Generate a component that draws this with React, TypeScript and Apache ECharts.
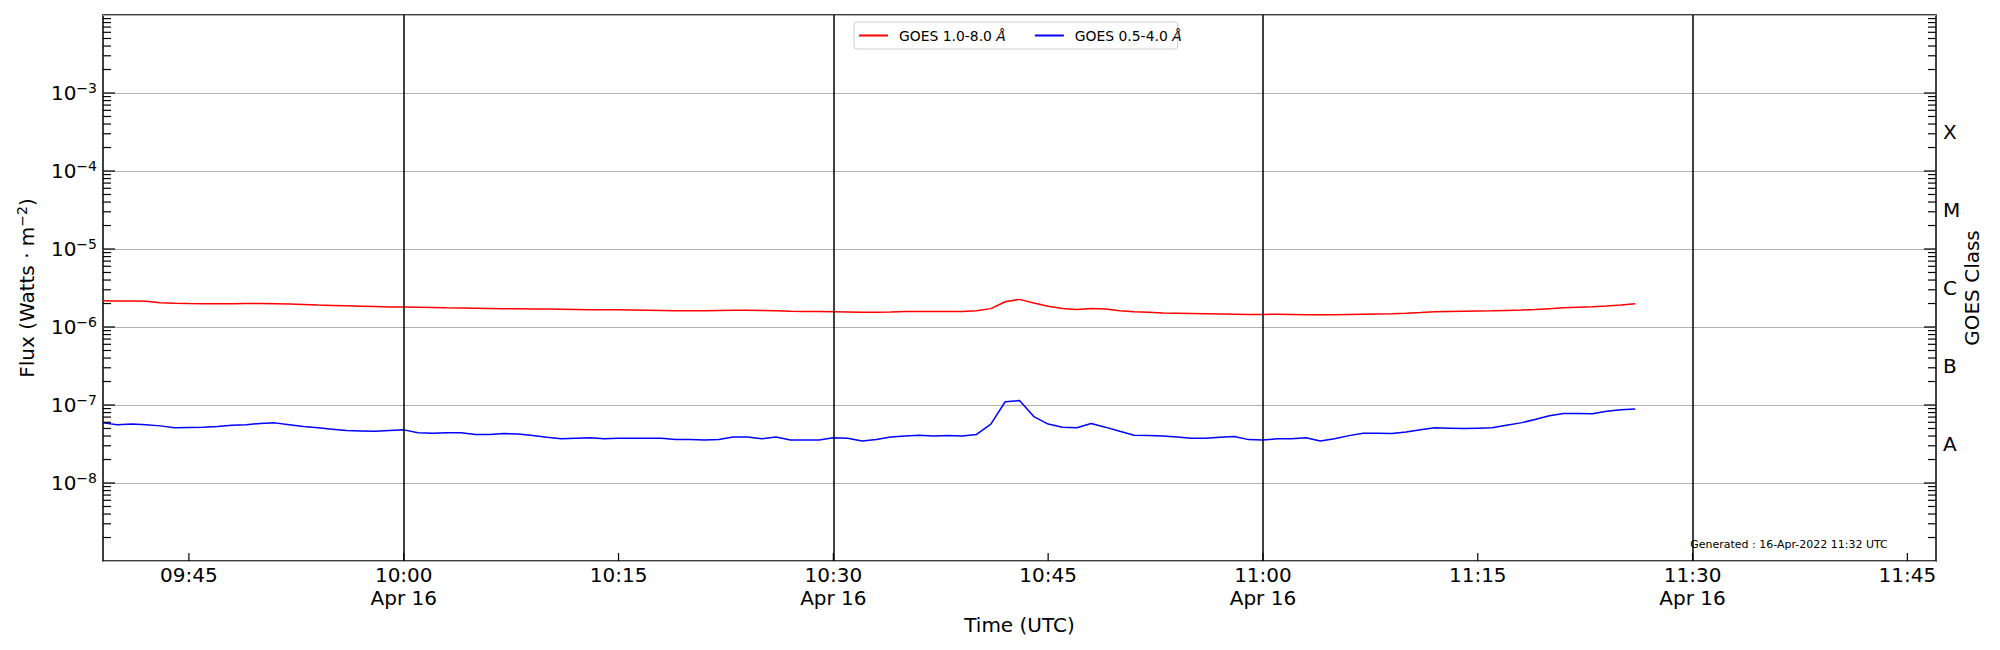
import React, { useEffect, useRef } from "react";
import * as echarts from "echarts";

// ---- data (1-minute GOES XRS fluxes, W/m^2) ----
const times = [
  "09:39","09:40","09:41","09:42","09:43","09:44","09:45","09:46","09:47","09:48",
  "09:49","09:50","09:51","09:52","09:53","09:54","09:55","09:56","09:57","09:58",
  "09:59","10:00","10:01","10:02","10:03","10:04","10:05","10:06","10:07","10:08",
  "10:09","10:10","10:11","10:12","10:13","10:14","10:15","10:16","10:17","10:18",
  "10:19","10:20","10:21","10:22","10:23","10:24","10:25","10:26","10:27","10:28",
  "10:29","10:30","10:31","10:32","10:33","10:34","10:35","10:36","10:37","10:38",
  "10:39","10:40","10:41","10:42","10:43","10:44","10:45","10:46","10:47","10:48",
  "10:49","10:50","10:51","10:52","10:53","10:54","10:55","10:56","10:57","10:58",
  "10:59","11:00","11:01","11:02","11:03","11:04","11:05","11:06","11:07","11:08",
  "11:09","11:10","11:11","11:12","11:13","11:14","11:15","11:16","11:17","11:18",
  "11:19","11:20","11:21","11:22","11:23","11:24","11:25","11:26",
];

const goesLong = [
  2.17e-6, 2.16e-6, 2.16e-6, 2.14e-6, 2.05e-6, 2.02e-6, 2.0e-6, 1.99e-6, 1.99e-6, 1.99e-6,
  2.0e-6, 2.0e-6, 1.99e-6, 1.97e-6, 1.94e-6, 1.91e-6, 1.89e-6, 1.87e-6, 1.85e-6, 1.83e-6,
  1.81e-6, 1.8e-6, 1.79e-6, 1.78e-6, 1.76e-6, 1.75e-6, 1.74e-6, 1.73e-6, 1.72e-6, 1.71e-6,
  1.7e-6, 1.7e-6, 1.69e-6, 1.68e-6, 1.67e-6, 1.67e-6, 1.66e-6, 1.65e-6, 1.64e-6, 1.63e-6,
  1.62e-6, 1.62e-6, 1.62e-6, 1.63e-6, 1.64e-6, 1.64e-6, 1.63e-6, 1.61e-6, 1.59e-6, 1.58e-6,
  1.58e-6, 1.57e-6, 1.56e-6, 1.55e-6, 1.55e-6, 1.56e-6, 1.58e-6, 1.58e-6, 1.58e-6, 1.58e-6,
  1.58e-6, 1.62e-6, 1.72e-6, 2.11e-6, 2.26e-6, 2.03e-6, 1.84e-6, 1.73e-6, 1.68e-6, 1.73e-6,
  1.7e-6, 1.62e-6, 1.57e-6, 1.54e-6, 1.51e-6, 1.5e-6, 1.49e-6, 1.48e-6, 1.47e-6, 1.46e-6,
  1.45e-6, 1.45e-6, 1.46e-6, 1.45e-6, 1.44e-6, 1.44e-6, 1.44e-6, 1.45e-6, 1.46e-6, 1.47e-6,
  1.48e-6, 1.5e-6, 1.53e-6, 1.57e-6, 1.58e-6, 1.59e-6, 1.6e-6, 1.61e-6, 1.63e-6, 1.65e-6,
  1.68e-6, 1.72e-6, 1.76e-6, 1.79e-6, 1.82e-6, 1.86e-6, 1.92e-6, 1.99e-6,
];

const goesShort = [
  5.9e-8, 5.6e-8, 5.7e-8, 5.6e-8, 5.4e-8, 5.1e-8, 5.15e-8, 5.2e-8, 5.3e-8, 5.5e-8,
  5.6e-8, 5.8e-8, 5.9e-8, 5.6e-8, 5.3e-8, 5.1e-8, 4.9e-8, 4.7e-8, 4.65e-8, 4.6e-8,
  4.7e-8, 4.8e-8, 4.4e-8, 4.35e-8, 4.4e-8, 4.4e-8, 4.2e-8, 4.2e-8, 4.3e-8, 4.25e-8,
  4.05e-8, 3.85e-8, 3.7e-8, 3.75e-8, 3.8e-8, 3.7e-8, 3.75e-8, 3.75e-8, 3.75e-8, 3.75e-8,
  3.6e-8, 3.6e-8, 3.55e-8, 3.6e-8, 3.9e-8, 3.9e-8, 3.7e-8, 3.9e-8, 3.55e-8, 3.55e-8,
  3.55e-8, 3.8e-8, 3.75e-8, 3.45e-8, 3.6e-8, 3.9e-8, 4.0e-8, 4.1e-8, 4.0e-8, 4.05e-8,
  4.0e-8, 4.2e-8, 5.7e-8, 1.1e-7, 1.14e-7, 7.1e-8, 5.7e-8, 5.2e-8, 5.1e-8, 5.8e-8,
  5.2e-8, 4.6e-8, 4.1e-8, 4.05e-8, 4.0e-8, 3.9e-8, 3.75e-8, 3.75e-8, 3.85e-8, 3.95e-8,
  3.6e-8, 3.55e-8, 3.7e-8, 3.7e-8, 3.8e-8, 3.45e-8, 3.7e-8, 4.05e-8, 4.35e-8, 4.35e-8,
  4.3e-8, 4.5e-8, 4.8e-8, 5.1e-8, 5.05e-8, 5.0e-8, 5.05e-8, 5.1e-8, 5.5e-8, 5.9e-8,
  6.5e-8, 7.3e-8, 7.8e-8, 7.8e-8, 7.7e-8, 8.3e-8, 8.7e-8, 8.9e-8,
];

const seriesNames = ["GOES 1.0-8.0 Å", "GOES 0.5-4.0 Å"];
const seriesColors = ["#ff0000", "#0000ff"];

const xRange = ["09:39", "11:47"];
const xTicks = ["09:45", "10:00", "10:15", "10:30", "10:45", "11:00", "11:15", "11:30", "11:45"];
const dateLabel = "Apr 16";
const dividerTimes = ["10:00", "10:30", "11:00", "11:30"];

const yRange = [1e-9, 1e-2];
const classLabels = ["A", "B", "C", "M", "X"];
const classExponents = [-7.5, -6.5, -5.5, -4.5, -3.5];

const xTitle = "Time (UTC)";
const yTitle = "Flux (Watts · m{s|−2})";
const y2Title = "GOES Class";
const generatedText = "Generated : 16-Apr-2022 11:32 UTC";

const FONT = "DejaVu Sans";

const toMin = (s: string) => {
  const [h, m] = s.split(":").map(Number);
  return h * 60 + m;
};

export default function App() {
  const ref = useRef<HTMLDivElement>(null);

  useEffect(() => {
    if (!ref.current) return;
    const chart = echarts.init(ref.current, undefined, { renderer: "svg" });

    const xMin = toMin(xRange[0]);
    const xMax = toMin(xRange[1]);
    const lo = Math.round(Math.log10(yRange[0]));
    const hi = Math.round(Math.log10(yRange[1]));

    // tick positions on the log axis (major decades + minor 2..9)
    const yTickData: number[][] = [];
    for (let d = lo; d < hi; d++) {
      if (d > lo) yTickData.push([xMin, Math.pow(10, d), 12]);
      for (let k = 2; k <= 9; k++) yTickData.push([xMin, k * Math.pow(10, d), 8]);
    }
    const xTickData = xTicks.map((t) => [toMin(t), yRange[0]]);
    const xTickSet = new Set(xTicks.map(toMin));

    const tickStyle = { stroke: "#000", lineWidth: 1.2 };

    const option: any = {
      animation: false,
      backgroundColor: "#fff",
      textStyle: { fontFamily: FONT },
      grid: {
        left: 103,
        right: 64,
        top: 15,
        bottom: 89,
        show: true,
        borderColor: "#000",
        borderWidth: 1.5,
        backgroundColor: "transparent",
        containLabel: false,
        outerBoundsMode: "none",
      },
      legend: {
        left: 854,
        top: 22,
        orient: "horizontal",
        data: seriesNames.map((n) => ({ name: n, icon: "rect" })),
        itemWidth: 29,
        itemHeight: 2,
        itemGap: 29,
        padding: [5, -4, 5, 5],
        borderColor: "#cccccc",
        borderWidth: 1,
        borderRadius: 3,
        backgroundColor: "rgba(255,255,255,0.8)",
        selectedMode: false,
        formatter: (name: string) => "{g| }" + name.slice(0, -1) + "{i|Å}",
        textStyle: {
          fontFamily: FONT,
          fontSize: 13.9,
          color: "#000",
          lineHeight: 17,
          rich: {
            g: { width: 6, fontSize: 13.9, lineHeight: 17 },
            i: { fontFamily: FONT, fontSize: 13.9, fontStyle: "italic", color: "#000", lineHeight: 17 },
          },
        },
      },
      xAxis: {
        type: "value",
        min: xMin,
        max: xMax,
        interval: 1,
        axisLine: { show: false },
        axisTick: { show: false },
        splitLine: { show: false },
        axisLabel: {
          margin: 2,
          fontFamily: FONT,
          fontSize: 20,
          lineHeight: 23,
          color: "#000",
          hideOverlap: false,
          formatter: (v: number) => {
            const m = Math.round(v);
            if (!xTickSet.has(m)) return "";
            const hh = String(Math.floor(m / 60)).padStart(2, "0");
            const mm = String(m % 60).padStart(2, "0");
            return m % 30 === 0 ? `${hh}:${mm}\n${dateLabel}` : `${hh}:${mm}`;
          },
        },
        name: xTitle,
        nameLocation: "middle",
        nameGap: 52,
        nameMoveOverlap: false,
        nameTextStyle: { fontFamily: FONT, fontSize: 20, color: "#000", lineHeight: 24 },
      },
      yAxis: [
        {
          type: "log",
          logBase: 10,
          min: yRange[0],
          max: yRange[1],
          splitNumber: hi - lo,
          axisLine: { show: false },
          axisTick: { show: false },
          splitLine: { show: true, lineStyle: { color: "#b0b0b0", width: 1.2 } },
          axisLabel: {
            margin: 6,
            color: "#000",
            formatter: (v: number) => {
              const e = Math.round(Math.log10(v));
              if (e <= lo || e >= hi) return "";
              return `{b|10}{s|−${-e}}`;
            },
            rich: {
              b: { fontFamily: FONT, fontSize: 20, lineHeight: 24, color: "#000" },
              s: { fontFamily: FONT, fontSize: 14, lineHeight: 14, verticalAlign: "top", color: "#000" },
            },
          },
          name: yTitle,
          nameLocation: "middle",
          nameRotate: 90,
          nameGap: 64,
          nameMoveOverlap: false,
          nameTextStyle: {
            fontFamily: FONT,
            fontSize: 20,
            color: "#000",
            lineHeight: 24,
            rich: {
              s: { fontFamily: FONT, fontSize: 14, lineHeight: 14, verticalAlign: "top", color: "#000" },
            },
          },
        },
        {
          type: "value",
          position: "right",
          min: lo,
          max: hi,
          interval: 0.5,
          axisLine: { show: false },
          axisTick: { show: false },
          splitLine: { show: false },
          axisLabel: {
            margin: 7,
            fontFamily: FONT,
            fontSize: 20,
            color: "#000",
            formatter: (v: number) => {
              const idx = classExponents.indexOf(v);
              return idx >= 0 ? classLabels[idx] : "";
            },
          },
          name: y2Title,
          nameLocation: "middle",
          nameRotate: 90,
          nameGap: 24,
          nameMoveOverlap: false,
          nameTextStyle: { fontFamily: FONT, fontSize: 20, color: "#000", lineHeight: 24 },
        },
      ],
      series: [
        {
          name: seriesNames[0],
          type: "line",
          xAxisIndex: 0,
          yAxisIndex: 0,
          symbol: "none",
          showSymbol: false,
          silent: true,
          color: seriesColors[0],
          lineStyle: { color: seriesColors[0], width: 1.5 },
          data: times.map((t, i) => [toMin(t), goesLong[i]]),
          z: 3,
          markLine: {
            silent: true,
            symbol: ["none", "none"],
            label: { show: false },
            lineStyle: { color: "#000", width: 1.5, type: "solid" },
            emphasis: { disabled: true },
            data: dividerTimes.map((t) => ({ xAxis: toMin(t) })),
          },
        },
        {
          name: seriesNames[1],
          type: "line",
          xAxisIndex: 0,
          yAxisIndex: 0,
          symbol: "none",
          showSymbol: false,
          silent: true,
          color: seriesColors[1],
          lineStyle: { color: seriesColors[1], width: 1.5 },
          data: times.map((t, i) => [toMin(t), goesShort[i]]),
          z: 3,
        },
        {
          name: "yTicks",
          type: "custom",
          xAxisIndex: 0,
          yAxisIndex: 0,
          silent: true,
          clip: false,
          z: 5,
          data: yTickData,
          renderItem: (params: any, api: any) => {
            const cs = params.coordSys;
            const y = api.coord([api.value(0), api.value(1)])[1];
            const len = api.value(2);
            return {
              type: "group",
              children: [
                { type: "line", shape: { x1: cs.x, y1: y, x2: cs.x + len, y2: y }, style: tickStyle },
                {
                  type: "line",
                  shape: { x1: cs.x + cs.width, y1: y, x2: cs.x + cs.width - len, y2: y },
                  style: tickStyle,
                },
              ],
            };
          },
        },
        {
          name: "xTicks",
          type: "custom",
          xAxisIndex: 0,
          yAxisIndex: 0,
          silent: true,
          clip: false,
          z: 5,
          data: xTickData,
          renderItem: (params: any, api: any) => {
            const cs = params.coordSys;
            const x = api.coord([api.value(0), api.value(1)])[0];
            const yb = cs.y + cs.height;
            return { type: "line", shape: { x1: x, y1: yb, x2: x, y2: yb - 8 }, style: tickStyle };
          },
        },
      ],
      graphic: [
        {
          type: "text",
          x: 1789,
          y: 544,
          silent: true,
          style: {
            text: generatedText,
            fontFamily: FONT,
            fontSize: 11,
            fill: "#000",
            align: "center",
            textAlign: "center",
            verticalAlign: "middle",
            textVerticalAlign: "middle",
          },
        },
      ],
    };

    chart.setOption(option);
    return () => {
      chart.dispose();
    };
  }, []);

  return (
    <div
      ref={ref}
      style={{ position: "fixed", left: 0, top: 0, width: 2000, height: 650, background: "#fff" }}
    />
  );
}
